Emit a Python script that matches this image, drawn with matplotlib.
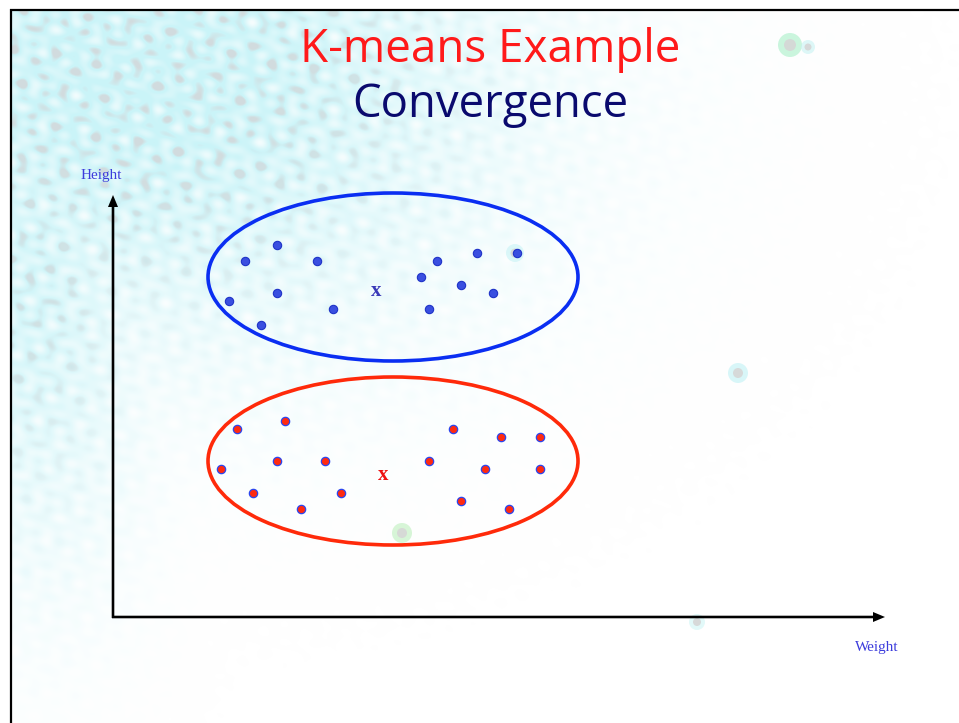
import numpy as np
import matplotlib
matplotlib.use("Agg")
import matplotlib.pyplot as plt
from matplotlib.patches import Ellipse, FancyArrow

W, H = 959, 723

# Cluster members (slide pixel coordinates, y grows downward)
blue_x = [277, 245, 317, 277, 229, 261, 333, 437, 477, 517, 421, 461, 493, 429]
blue_y = [245, 261, 261, 293, 301, 325, 309, 261, 253, 253, 277, 285, 293, 309]
red_x = [285, 237, 277, 325, 221, 253, 341, 301, 453, 501, 540, 429, 485, 540, 461, 509]
red_y = [421, 429, 461, 461, 469, 493, 493, 509, 429, 437, 437, 461, 469, 469, 501, 509]

# Centroids
blue_centroid = (376, 291)
red_centroid = (383, 475)

# Cluster outlines: (cx, cy, width, height)
blue_outline = (393, 277, 370, 168)
red_outline = (393, 461, 370, 168)

title_1 = "K-means Example"
title_2 = "Convergence"
x_label = "Weight"
y_label = "Height"

fig = plt.figure(figsize=(W / 100, H / 100), dpi=100)
ax = fig.add_axes([0, 0, 1, 1])
ax.set_xlim(0, W)
ax.set_ylim(H, 0)
ax.axis("off")

# Cyan nebula haze, dense in the upper-left corner and thinning out
yy, xx = np.mgrid[0:H, 0:W].astype(float)
d1 = np.hypot((xx - 140) / 1.5, (yy - 70) / 1.1)
d2 = np.hypot((xx - 30) / 0.6, (yy - 260) / 1.5)
base = np.maximum(np.exp(-(d1 / 230.0) ** 2), 0.75 * np.exp(-(d2 / 190.0) ** 2))
mottle = np.zeros_like(xx)
for k, (ang, lam) in enumerate([(0.3, 21), (1.35, 17), (2.4, 25), (0.85, 31), (1.9, 14), (2.9, 19)]):
    mottle += np.sin((xx * np.cos(ang) + yy * np.sin(ang)) * 2 * np.pi / lam + k * 1.7)
mottle /= 6.0
alpha = np.clip(base * 1.35 * (0.75 + 0.6 * mottle), 0, 1) * 0.85
gray = np.clip((mottle - 0.2) * 3.0, 0, 1) * np.clip(base * 1.5 - 0.3, 0, 1) * 0.8
cyan = np.array([0.76, 0.95, 0.97])
grey = np.array([0.80, 0.81, 0.82])
rgb = np.empty((H, W, 3))
rgb[:] = cyan
rgb = rgb * (1 - gray[..., None]) + grey * gray[..., None]
img = np.concatenate([rgb, alpha[..., None]], axis=2)
img[:10, :, 3] = 0
img[:, :11, 3] = 0
ax.imshow(img, extent=(0, W, H, 0), zorder=0, interpolation="bilinear")

# A few glowing stars
for (sx, sy, r, col) in [(790, 45, 12, "#a8f0c8"), (808, 47, 7, "#c8f3f3"),
                         (738, 373, 10, "#bff2f5"), (402, 533, 10, "#bdf0bd"),
                         (515, 253, 9, "#c8f3f6"), (697, 622, 8, "#d0f5f5")]:
    ax.add_patch(Ellipse((sx, sy), 2 * r, 2 * r, color=col, alpha=0.6, lw=0, zorder=1))
    ax.add_patch(Ellipse((sx, sy), r, r, color="#d6d6d6", alpha=0.9, lw=0, zorder=1))

# Slide frame
ax.plot([10, W], [9.5, 9.5], color="black", lw=1.6, zorder=2, solid_capstyle="butt")
ax.plot([10.5, 10.5], [9, H], color="black", lw=1.6, zorder=2, solid_capstyle="butt")

# Axes arrows
ax.add_patch(FancyArrow(113, 618, 0, -423, width=2.6, head_width=10, head_length=12,
                        length_includes_head=True, color="black", lw=0, zorder=3))
ax.add_patch(FancyArrow(112, 617, 773, 0, width=2.6, head_width=10, head_length=12,
                        length_includes_head=True, color="black", lw=0, zorder=3))
ax.text(101, 176, y_label, fontsize=11, family="Liberation Serif", color="#3c3cdc",
        ha="center", va="center", zorder=3)
ax.text(877, 648, x_label, fontsize=11, family="Liberation Serif", color="#3c3cdc",
        ha="center", va="center", zorder=3)

# Cluster outlines
for (cx, cy, w, h), col in [(blue_outline, "#0a2ef2"), (red_outline, "#ff2a0a")]:
    ax.add_patch(Ellipse((cx, cy), w, h, fill=False, edgecolor=col, lw=2.6, zorder=4))

# Cluster points
ax.scatter(blue_x, blue_y, s=36, color="#3a4fe0", edgecolors="#1f33c8", linewidths=0.8, zorder=5)
ax.scatter(red_x, red_y, s=36, color="#ff2a10", edgecolors="#2a46f0", linewidths=0.9, zorder=5)

# Centroid markers
ax.text(*blue_centroid, "x", fontsize=15, family="Liberation Serif", weight="bold",
        color="#3a3ab8", ha="center", va="center", zorder=5)
ax.text(*red_centroid, "x", fontsize=15, family="Liberation Serif", weight="bold",
        color="#ee1111", ha="center", va="center", zorder=5)

# Titles, sized to their widths on the slide
def fitted_title(txt, cx, baseline, width, color):
    t = ax.text(cx, baseline, txt, fontsize=30, family="Open Sans", color=color,
                ha="center", va="baseline", zorder=5)
    r = fig.canvas.get_renderer()
    bw = t.get_window_extent(renderer=r).width
    t.set_fontsize(30 * width / bw)
    return t

fig.canvas.draw()
fitted_title(title_1, 490, 62, 380, "#ff1a1a")
fitted_title(title_2, 490, 117, 276, "#0a0a6e")

fig.savefig("out.png", dpi=100)
